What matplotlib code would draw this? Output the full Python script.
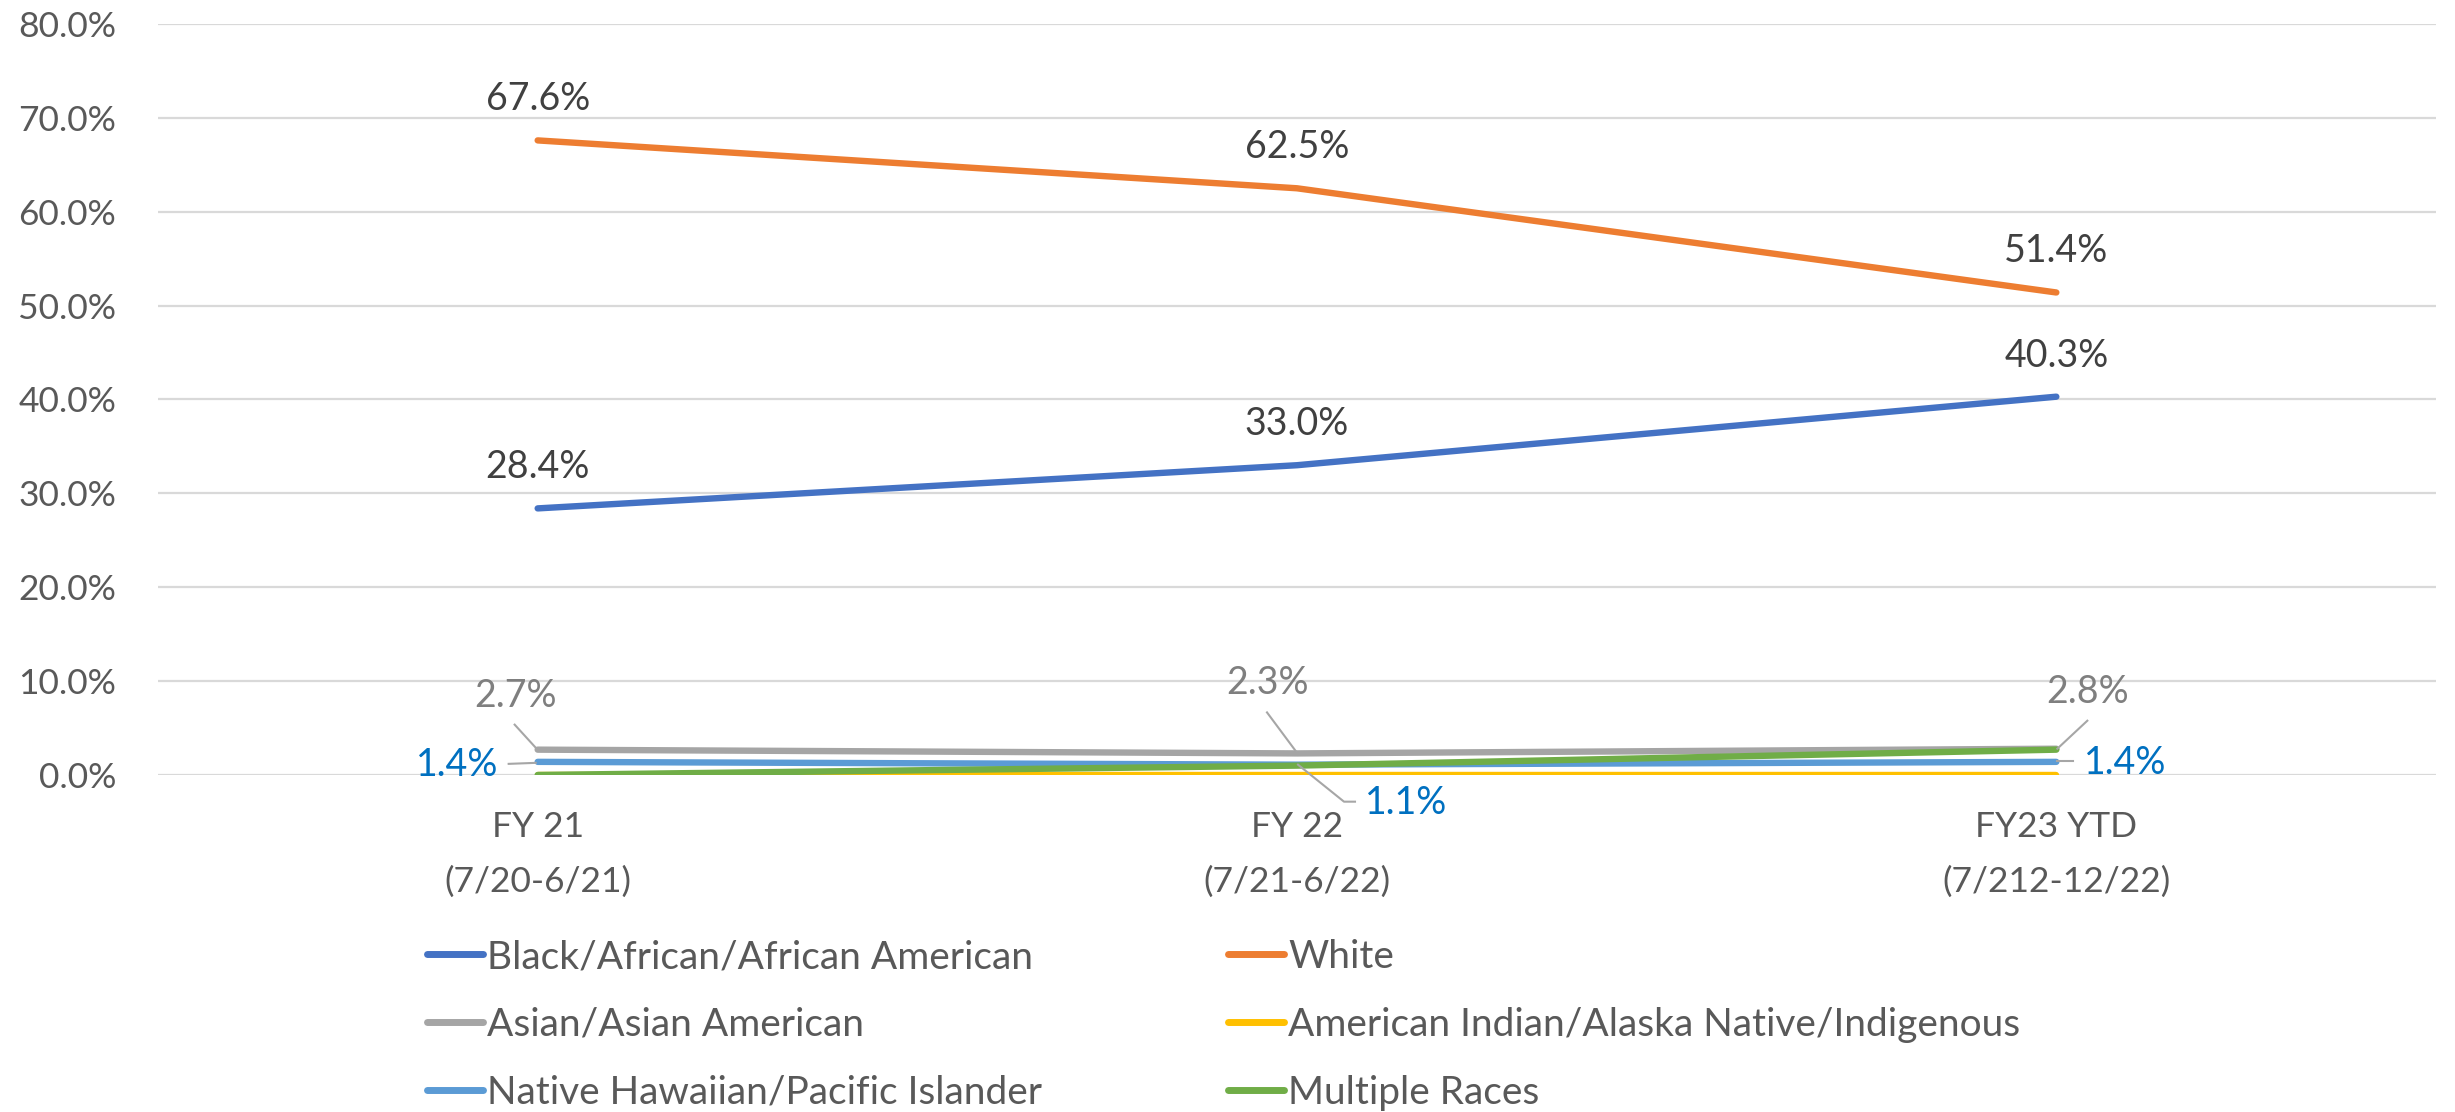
import numpy as np
import matplotlib
matplotlib.use("Agg")
import matplotlib.pyplot as plt
from matplotlib.lines import Line2D
from matplotlib.transforms import IdentityTransform

plt.rcParams['font.family'] = ['Lato', 'DejaVu Sans']

# categories and series (percent)
periods = ['FY 21\n(7/20-6/21)', 'FY 22\n(7/21-6/22)', 'FY23 YTD\n(7/212-12/22)']
black = [28.4, 33.0, 40.3]
white = [67.6, 62.5, 51.4]
asian = [2.7, 2.3, 2.8]
am_indian = [0.0, 0.0, 0.0]
hawaiian = [1.4, 1.1, 1.4]
multiple = [0.0, 1.0, 2.7]

names = ['Black/African/African American', 'White', 'Asian/Asian American',
         'American Indian/Alaska Native/Indigenous',
         'Native Hawaiian/Pacific Islander', 'Multiple Races']
colors = ['#4472C4', '#ED7D31', '#A5A5A5', '#FFC000', '#5B9BD5', '#70AD47']
series = [black, white, asian, am_indian, hawaiian, multiple]

W, H = 2455, 1112
fig = plt.figure(figsize=(W / 100, H / 100), dpi=100)
ax = fig.add_axes([158 / W, 1 - 775 / H, (2436 - 158) / W, (775 - 24) / H])

x = np.arange(len(periods))
lines = []
for vals, c, n in zip(series, colors, names):
    ln, = ax.plot(x, vals, color=c, lw=4.6, solid_capstyle='round', label=n, zorder=3)
    lines.append(ln)

ax.set_xlim(-0.5, len(periods) - 0.5)
ax.set_ylim(0, 80)
ax.set_yticks(np.arange(0, 81, 10))
ax.set_yticklabels([f'{v:.1f}%' for v in np.arange(0, 81, 10)])
ax.set_xticks(x)
ax.set_xticklabels(periods, linespacing=1.85)
ax.grid(axis='y', color='#D9D9D9', lw=1.6)
ax.set_axisbelow(True)
for s in ax.spines.values():
    s.set_visible(False)
ax.tick_params(axis='y', length=0, pad=30, labelsize=25.5, labelcolor='#595959')
ax.tick_params(axis='x', length=0, pad=26, labelsize=25.5, labelcolor='#595959')

# labels for the two large series, above the points
for vals in (black, white):
    for xi, v in zip(x, vals):
        ax.annotate(f'{v:.1f}%', (xi, v), xytext=(0, 41), textcoords='offset pixels',
                    ha='center', va='center', fontsize=27, color='#404040')

# small series labels with leader lines (offsets in pixels)
asian_text = [(-22, 54), (-30, 70), (31, 57)]
asian_lead = [[(-23, 25), (-2, 2)], [(-30, 41), (-1, 2)], [(31, 28), (1, 0)]]
haw_text = [(-80, -3), (109, -38), (69, -1)]
haw_lead = [[(-29, -2), (-2, -1)], [(58, -37), (47, -37), (1, 0)], [(1, 1), (17, 1)]]

fig.canvas.draw()
for vals, txt, lead, col in ((asian, asian_text, asian_lead, '#7F7F7F'),
                             (hawaiian, haw_text, haw_lead, '#0070C0')):
    for xi, v, t, ld in zip(x, vals, txt, lead):
        ax.annotate(f'{v:.1f}%', (xi, v), xytext=t, textcoords='offset pixels',
                    ha='center', va='center', fontsize=27, color=col)
        px, py = ax.transData.transform((xi, v))
        ld = np.array(ld, dtype=float)
        fig.add_artist(Line2D(px + ld[:, 0], py + ld[:, 1], transform=IdentityTransform(),
                              color='#A6A6A6', lw=1.5, zorder=5))

# legend in two columns
col1 = [lines[0], lines[2], lines[4]]
col2 = [lines[1], lines[3], lines[5]]
kw = dict(frameon=False, fontsize=28, handlelength=1.45, handletextpad=0.1,
          labelspacing=0.82, borderpad=0, borderaxespad=0, loc='upper left',
          labelcolor='#595959')
leg1 = fig.legend(handles=col1, labels=[l.get_label() for l in col1],
                  bbox_to_anchor=(427 / W, 1 - 939 / H), **kw)
leg2 = fig.legend(handles=col2, labels=[l.get_label() for l in col2],
                  bbox_to_anchor=(1228 / W, 1 - 939 / H), **kw)
for lg in (leg1, leg2):
    for h in lg.legend_handles:
        h.set_linewidth(5)

fig.savefig('out.png', dpi=100)
